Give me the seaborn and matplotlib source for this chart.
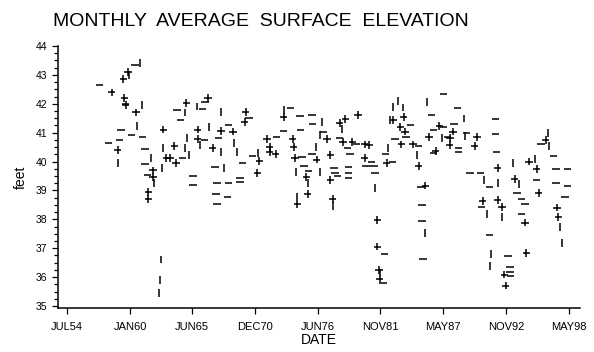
import numpy as np
import pandas as pd
import matplotlib
matplotlib.use("Agg")
import matplotlib.pyplot as plt
import seaborn as sns

# Datos (año decimal, pies)
plus_year = [1959.8, 1959.4, 1958.4, 1959.5, 1959.6, 1960.5, 1962.9, 1958.9, 1963.15, 1962.0, 1962.0, 1961.6, 1961.6,
             1964.9, 1966.8, 1970.1, 1970.0, 1965.9, 1967.95, 1969.0, 1965.9, 1963.85, 1963.5, 1964.0, 1967.2, 1971.3,
             1971.1, 1971.97, 1972.2, 1972.2, 1972.7,
             1973.4, 1978.3, 1978.8, 1979.9, 1974.2, 1977.2, 1978.6, 1979.4, 1980.5, 1980.9, 1974.3, 1977.5, 1980.5,
             1974.4, 1976.3, 1975.4, 1977.5, 1974.6, 1975.5, 1977.7, 1981.6, 1981.6, 1981.75, 1981.8, 1982.4,
             1983.0, 1983.9, 1983.6, 1984.0, 1983.7, 1984.7, 1985.2, 1985.8, 1987.0, 1988.2, 1986.1, 1987.95, 1987.9,
             1986.7, 1990.3, 1990.1, 1992.1, 1990.8, 1992.1,
             1996.3, 1997.3, 1997.4, 1994.85, 1995.5, 1995.7, 1993.6, 1994.5, 1994.6, 1992.7, 1992.8, 1992.5]
plus_ft = [43.1, 42.86, 42.4, 42.2, 41.96, 41.7, 41.1, 40.4, 40.12, 39.7, 39.47, 38.95, 38.7,
           42.03, 42.2, 41.72, 41.37, 41.1, 41.06, 41.03, 40.78, 40.54, 40.12, 39.95, 40.47, 40.02,
           39.6, 40.78, 40.5, 40.33, 40.26,
           41.54, 41.34, 41.47, 41.61, 40.78, 40.78, 40.68, 40.68, 40.6, 40.57, 40.5, 40.23, 40.12,
           40.12, 40.06, 39.47, 39.36, 38.53, 38.88, 38.7, 37.98, 37.05, 36.25, 35.94, 39.95,
           41.44, 41.54, 41.2, 41.03, 40.6, 40.6, 39.85, 39.16, 41.23, 41.03, 40.85, 40.82, 40.57,
           40.37, 40.85, 40.54, 39.78, 38.64, 38.67,
           40.75, 38.4, 38.08, 40.0, 39.74, 38.91, 39.4, 37.88, 36.84, 36.08, 35.7, 38.43]

dash_year = [1960.44, 1957.3, 1959.6, 1959.2, 1960.1, 1961.1, 1958.1, 1959.1, 1961.3, 1961.3, 1961.5,
             1966.55, 1964.1, 1966.3, 1964.4, 1970.4, 1968.6, 1967.7, 1966.5, 1964.6, 1967.4, 1969.8, 1970.7,
             1972.8, 1965.5, 1965.5, 1967.6, 1968.6, 1969.6, 1969.6, 1967.5, 1968.5, 1967.6,
             1974.0, 1974.85, 1975.9, 1975.95, 1973.4, 1974.9, 1976.9, 1978.3, 1979.8, 1975.9, 1979.0, 1979.2,
             1981.1, 1975.0, 1975.2, 1975.6, 1977.8, 1977.9, 1978.1, 1979.1, 1979.1, 1979.1, 1980.6, 1981.3,
             1981.4, 1982.2, 1982.1, 1982.3,
             1984.5, 1984.1, 1983.15, 1985.2, 1982.9, 1985.4, 1985.5, 1985.5, 1985.6, 1986.3, 1987.4, 1988.6,
             1986.5, 1987.4, 1988.3, 1987.7, 1986.5, 1988.7, 1988.7, 1989.4, 1989.7, 1990.6, 1991.4, 1990.7,
             1991.4, 1991.9, 1991.9, 1992.0,
             1995.9, 1997.0, 1997.2, 1998.2, 1997.2, 1998.2, 1998.0, 1995.5, 1993.8, 1994.2, 1994.5, 1994.2,
             1993.0, 1993.2, 1993.2, 1993.25]
dash_ft = [43.34, 42.65, 42.0, 41.1, 40.92, 40.85, 40.64, 40.75, 40.44, 39.9, 39.54,
           42.06, 41.8, 41.82, 41.44, 41.5, 41.27, 40.82, 40.75, 40.12, 39.8, 39.95, 40.2,
           40.85, 39.5, 39.19, 39.26, 39.26, 39.43, 39.3, 38.88, 38.77, 38.53,
           41.85, 41.58, 41.61, 41.3, 41.06, 41.1, 41.03, 40.82, 40.6, 40.26, 40.47, 40.26,
           40.0, 40.16, 39.85, 39.67, 39.78, 39.6, 39.5, 39.81, 39.6, 39.43, 39.85, 39.85,
           39.6, 36.8, 35.8, 40.26,
           41.27, 40.85, 40.78, 40.54, 40.0, 39.12, 38.5, 37.95, 36.63, 41.61, 42.34, 41.85,
           41.1, 41.2, 41.3, 40.85, 40.3, 40.47, 40.33, 41.0, 39.6, 39.6, 39.12, 38.43,
           37.46, 41.47, 40.96, 40.33,
           40.6, 40.2, 39.74, 39.74, 39.26, 39.16, 38.78, 39.36, 38.9, 38.7, 38.53, 38.19,
           36.73, 36.35, 36.18, 36.04]

bar_year = [1960.88, 1959.9, 1961.05, 1960.6, 1958.9, 1961.8, 1962.9, 1962.8, 1962.1, 1962.7, 1962.6, 1962.5,
            1964.8, 1965.8, 1967.9, 1966.9, 1965.0, 1966.1, 1969.1, 1969.3, 1964.8, 1965.15, 1967.95, 1968.2,
            1971.2,
            1973.45, 1976.8, 1978.5, 1976.6, 1976.2, 1974.5, 1976.6, 1975.5, 1981.4, 1974.6, 1977.7, 1981.8,
            1982.7, 1982.5,
            1983.0, 1983.4, 1983.8, 1985.1, 1985.8, 1985.9, 1989.2, 1987.25, 1989.25, 1990.9, 1992.1, 1991.2,
            1991.5, 1991.4,
            1996.5, 1996.6, 1997.55, 1997.7, 1995.4, 1993.45, 1994.0, 1992.5]
bar_ft = [43.41, 43.0, 41.96, 41.23, 39.95, 40.12, 40.47, 39.78, 39.26, 36.6, 35.9, 35.45,
          41.7, 41.9, 41.72, 41.2, 40.82, 40.57, 40.64, 40.33, 40.47, 40.23, 40.33, 39.78,
          40.3,
          41.79, 41.37, 41.13, 40.92, 40.5, 39.64, 39.64, 39.26, 39.09, 38.78, 38.46, 36.15,
          41.44, 40.47,
          41.89, 42.1, 41.86, 40.23, 37.53, 42.06, 41.5, 40.82, 40.89, 39.36, 39.26, 38.19,
          36.8, 36.39,
          40.99, 40.54, 37.74, 37.18, 40.09, 39.95, 39.22, 38.08]

tick_pos = [1954.5, 1960.0, 1965.42, 1970.92, 1976.42, 1981.83, 1987.33, 1992.83, 1998.33]
tick_lab = ['JUL54', 'JAN60', 'JUN65', 'DEC70', 'JUN76', 'NOV81', 'MAY87', 'NOV92', 'MAY98']

df = pd.concat([
    pd.DataFrame({'year': plus_year, 'feet': plus_ft, 'sym': '+'}),
    pd.DataFrame({'year': dash_year, 'feet': dash_ft, 'sym': '_'}),
    pd.DataFrame({'year': bar_year, 'feet': bar_ft, 'sym': '|'}),
])

sns.set_style('ticks')
plt.rcParams['font.family'] = ['Liberation Sans', 'DejaVu Sans']
plt.rcParams['text.color'] = 'black'
plt.rcParams['axes.labelcolor'] = 'black'
plt.rcParams['xtick.color'] = 'black'
plt.rcParams['ytick.color'] = 'black'

fig = plt.figure(figsize=(5.94, 3.52), dpi=100)
ax = fig.add_axes([58/594, 1 - 308/352, 522/594, 262/352])

sns.scatterplot(data=df, x='year', y='feet', style='sym',
                markers={'+': '+', '_': '_', '|': '|'},
                color='black', s=28, linewidth=1.1, legend=False, ax=ax)

ax.set_xlim(1953.7, 1999.3)
ax.set_ylim(34.93, 44.0)
ax.set_xticks(tick_pos)
ax.set_xticklabels(tick_lab, fontsize=8)
ax.set_yticks(range(35, 45))
ax.set_yticks(np.arange(35, 44, 0.25), minor=True)
ax.tick_params(axis='y', labelsize=7.5, length=4, width=0.9, direction='out')
ax.tick_params(axis='y', which='minor', length=3, width=0.9)
ax.tick_params(axis='x', length=4, width=0.9, direction='out', pad=6)
for s in ['top', 'right']:
    ax.spines[s].set_visible(False)
for s in ['left', 'bottom']:
    ax.spines[s].set_linewidth(1.1)
    ax.spines[s].set_color('black')

ax.set_xlabel('DATE', fontsize=10, labelpad=1)
ax.set_ylabel('feet', fontsize=10, labelpad=6)
ax.grid(False)

fig.text(261/594, 1 - 21/352, 'MONTHLY  AVERAGE  SURFACE  ELEVATION',
         ha='center', va='center', fontsize=14)

fig.savefig('out.png', dpi=100, facecolor='white')
